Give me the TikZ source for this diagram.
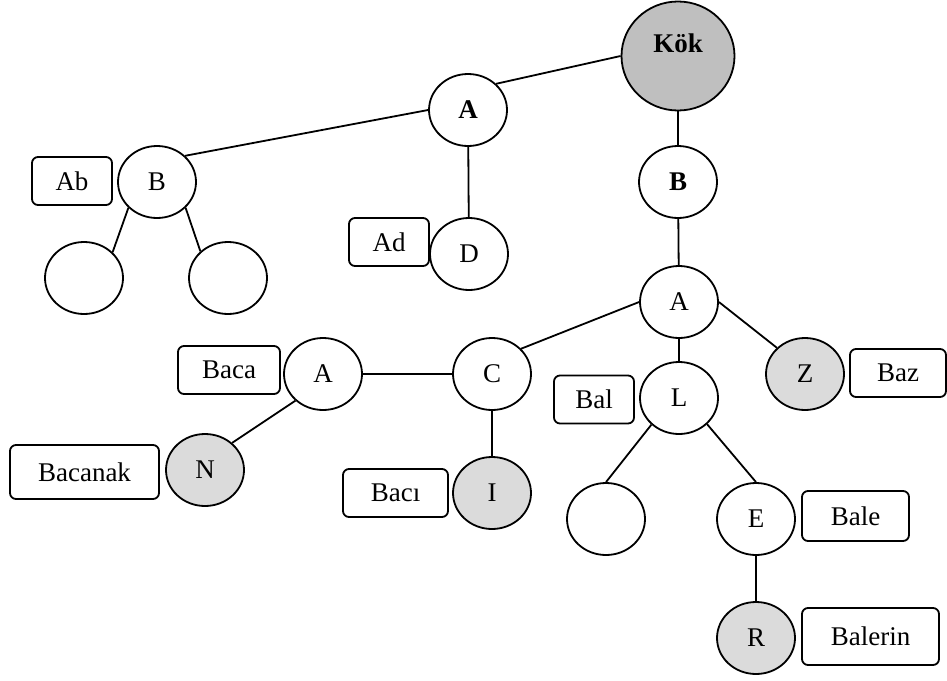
\documentclass[tikz,border=0pt]{standalone}
\usepackage{fontspec}
\setmainfont{Liberation Serif}
\usepackage{tikz}
\usetikzlibrary{shapes.geometric}

\begin{document}
\begin{tikzpicture}[x=0.5pt,y=-0.5pt,line width=0.9pt,
	font=\fontsize{13.5}{16}\selectfont,
	dugum/.style={shape=ellipse,draw=black,fill=white,inner sep=0pt,minimum width=39pt,minimum height=36pt},
	yaprak/.style={dugum,fill=gray!28},
	etiket/.style={shape=rectangle,draw=black,rounded corners=3pt,inner sep=0pt,minimum height=24pt}]
	
	\useasboundingbox (0,0) rectangle (947,680);
	
	\node[dugum,fill=gray!50,minimum width=56.5pt,minimum height=54.5pt,
	      label={[yshift=6.5pt]center:\textbf{Kök}}] (kok) at (678, 56) {};
	\node[dugum] (a1) at (468, 110)  {\textbf{A}};
	\node[dugum] (b1) at (157, 182)  {B};
	\node[dugum] (e1) at (84, 278)   {};
	\node[dugum] (e2) at (228, 278)  {};
	\node[dugum] (d)  at (469, 254)  {D};
	\node[dugum] (b2) at (678, 182)  {\textbf{B}};
	\node[dugum] (a2) at (679, 302)  {A};
	\node[dugum] (a3) at (323, 374)  {A};
	\node[dugum] (c)  at (492, 374)  {C};
	\node[yaprak] (z) at (805, 374)  {Z};
	\node[dugum] (l)  at (679, 398)  {L};
	\node[yaprak] (n) at (205, 470)  {N};
	\node[yaprak] (i) at (492, 493)  {I};
	\node[dugum] (e3) at (606, 519)  {};
	\node[dugum] (e)  at (756, 519)  {E};
	\node[yaprak] (r) at (756, 638)  {R};
	
	\node[etiket,minimum width=40pt] (ab)      at (72, 181)    {Ab};
	\node[etiket,minimum width=40pt] (ad)      at (389, 242)   {Ad};
	\node[etiket,minimum width=51pt] (baca)    at (229, 370)   {Baca};
	\node[etiket,minimum width=74.5pt,minimum height=27pt] (bacanak) at (84.5, 472) {Bacanak};
	\node[etiket,minimum width=52.5pt] (baci)  at (395.5, 493) {Bacı};
	\node[etiket,minimum width=40pt] (bal)     at (594, 399.5) {Bal};
	\node[etiket,minimum width=48pt] (baz)     at (898, 373)   {Baz};
	\node[etiket,minimum width=53.5pt,minimum height=25pt] (bale) at (855.5, 516) {Bale};
	\node[etiket,minimum width=68.5pt,minimum height=28.5pt] (balerin) at (870.5, 636.5) {Balerin};
	
	\path[-] (kok.180) edge (a1.43);
	\path[-] (kok) edge (b2);
	\path[-] (a1.180) edge (b1.43);
	\path[-] (a1) edge (d);
	\path[-] (b1.222) edge (e1.42);
	\path[-] (b1.318) edge (e2.136);
	\path[-] (b2) edge (a2);
	\path[-] (a2.180) edge (c.41);
	\path[-] (a2) edge (l);
	\path[-] (a2.0) edge (z.137);
	\path[-] (c) edge (a3);
	\path[-] (c) edge (i);
	\path[-] (a3.224) edge (n.45);
	\path[-] (l.224) edge (e3.90);
	\path[-] (l.317) edge (e.90);
	\path[-] (e) edge (r);
\end{tikzpicture}
\end{document}
